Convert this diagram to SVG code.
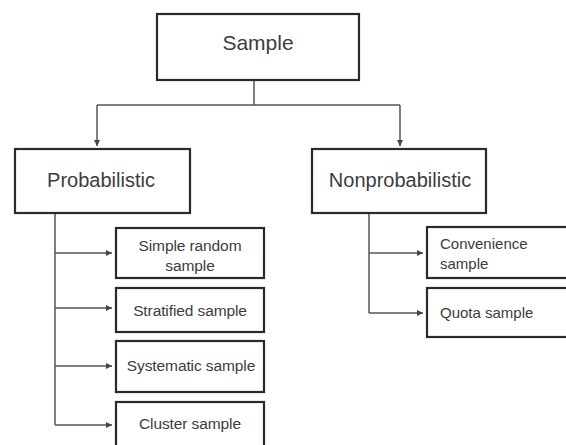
<svg xmlns="http://www.w3.org/2000/svg" width="566" height="445" viewBox="0 0 566 445">
<defs>
<style>
.box{fill:#fff;stroke:#2a2a2a;stroke-width:2.2}
.t{font-family:"Liberation Sans",Arial,sans-serif;fill:#3c3c3c;dominant-baseline:central}
.big{font-size:20px;text-anchor:middle}
.sm{font-size:15.5px;text-anchor:middle;letter-spacing:-0.1px}
.ln{fill:none;stroke:#555;stroke-width:1.5}
</style>
<marker id="ah" viewBox="0 0 8 8" refX="8" refY="4" markerWidth="6" markerHeight="6" orient="auto" markerUnits="userSpaceOnUse">
<path d="M0,0 L8,4 L0,8 z" fill="#444"/>
</marker>
</defs>
<rect width="566" height="445" fill="#fff"/>
<g id="connectors">
<path class="ln" d="M254,80 V105"/>
<path class="ln" d="M97,105 H400"/>
<path class="ln" d="M97,105 V146" marker-end="url(#ah)"/>
<path class="ln" d="M400,105 V146" marker-end="url(#ah)"/>
<path class="ln" d="M55,213 V425"/>
<path class="ln" d="M55,253 H112" marker-end="url(#ah)"/>
<path class="ln" d="M55,308 H112" marker-end="url(#ah)"/>
<path class="ln" d="M55,366 H112" marker-end="url(#ah)"/>
<path class="ln" d="M55,425 H112" marker-end="url(#ah)"/>
<path class="ln" d="M369,213 V313"/>
<path class="ln" d="M369,253 H423" marker-end="url(#ah)"/>
<path class="ln" d="M369,313 H423" marker-end="url(#ah)"/>
</g>
<g id="sample">
<rect class="box" x="157" y="14" width="202" height="66"/>
<text class="t big" x="258" y="42" style="font-size:21px">Sample</text>
</g>
<g id="probabilistic">
<rect class="box" x="15" y="149" width="175" height="64"/>
<text class="t big" x="101" y="180">Probabilistic</text>
</g>
<g id="nonprobabilistic">
<rect class="box" x="312" y="149" width="174" height="64"/>
<text class="t big" x="400" y="180">Nonprobabilistic</text>
</g>
<g id="simple-random">
<rect class="box" x="116" y="228" width="148" height="50"/>
<text class="t sm" x="190" y="245">Simple random</text>
<text class="t sm" x="190" y="265">sample</text>
</g>
<g id="stratified">
<rect class="box" x="116" y="288" width="148" height="44"/>
<text class="t sm" x="190" y="310">Stratified sample</text>
</g>
<g id="systematic">
<rect class="box" x="116" y="341" width="148" height="51"/>
<text class="t sm" x="191" y="365">Systematic sample</text>
</g>
<g id="cluster">
<rect class="box" x="116" y="402" width="148" height="50"/>
<text class="t sm" x="190" y="423">Cluster sample</text>
</g>
<g id="convenience">
<rect class="box" x="427" y="227" width="150" height="51"/>
<text class="t" x="440" y="243" style="font-size:15px">Convenience</text>
<text class="t" x="440" y="263" style="font-size:15px">sample</text>
</g>
<g id="quota">
<rect class="box" x="427" y="288" width="150" height="49"/>
<text class="t" x="440" y="312" style="font-size:15px">Quota sample</text>
</g>
</svg>
